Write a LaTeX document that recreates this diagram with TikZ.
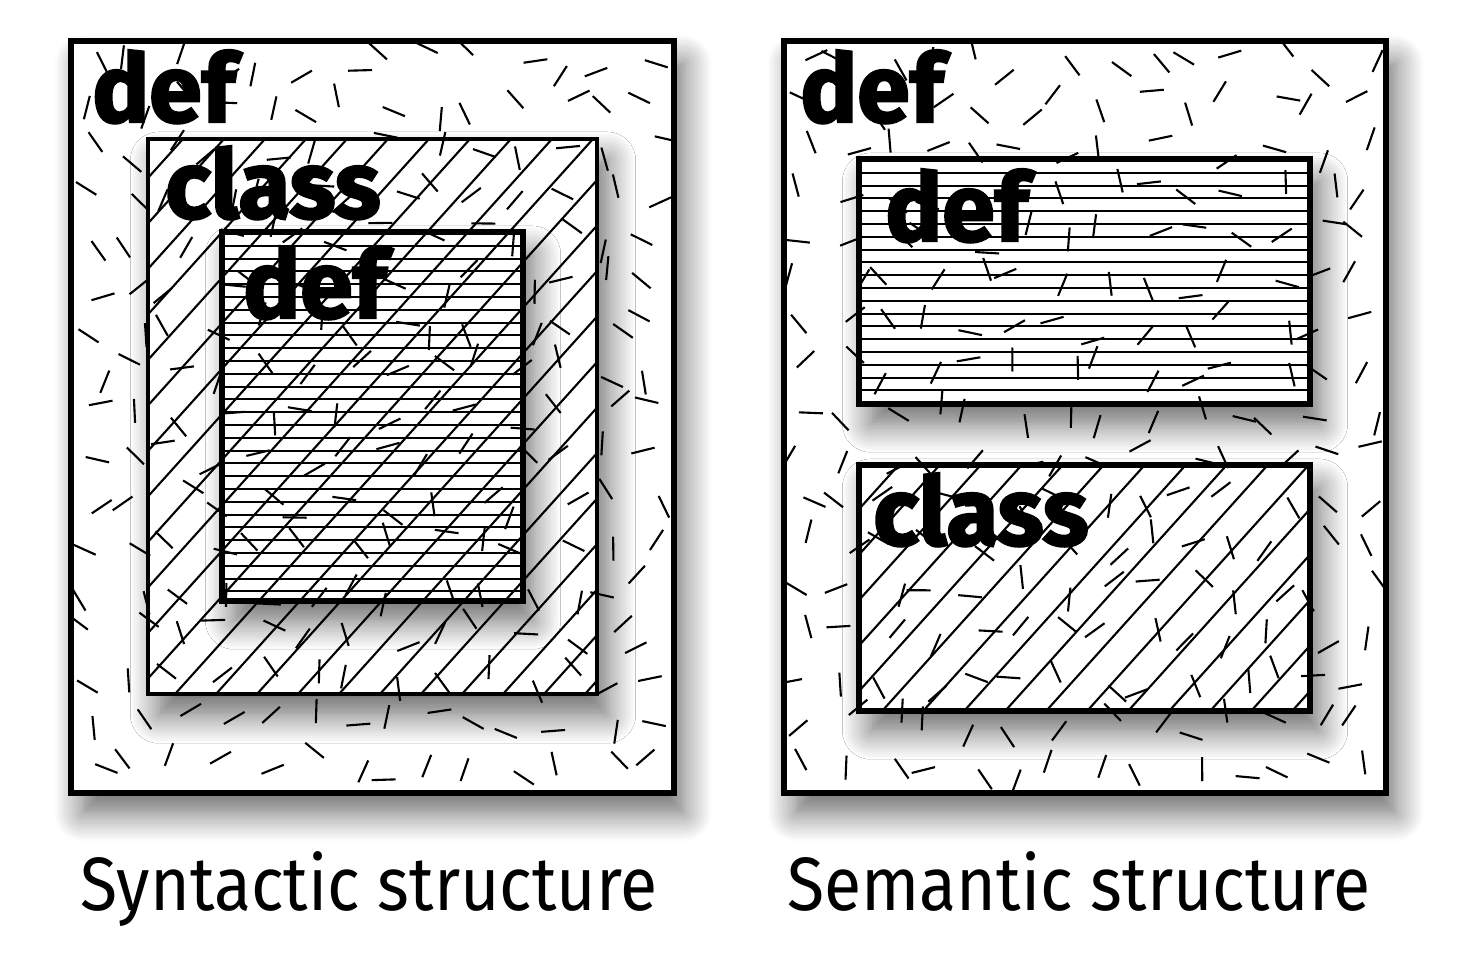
\documentclass[tikz,border=0pt]{standalone}
\usepackage{fontspec}
\setmainfont{Fira Sans}
\newfontfamily\kwfont[BoldFeatures={FakeBold=2.4}]{Fira Sans}
\newfontfamily\capfont[FakeStretch=0.9]{Fira Sans}
\usetikzlibrary{fit,shadows.blur}

\begin{document}
\begin{tikzpicture}[x=0.02cm, y=-0.02cm,
	box/.style={draw, line width=2pt, fill=white, inner sep=0pt,
		blur shadow={shadow xshift=6pt, shadow yshift=-12pt, shadow blur radius=16pt, shadow blur steps=12, shadow opacity=60}},
	hatch/.style={line width=1.2pt},
	speck/.style={line width=1.2pt, line cap=butt},
	kw/.style={font=\kwfont\bfseries\fontsize{54}{54}\selectfont, inner sep=0pt, anchor=base west},
	caption/.style={font=\capfont\fontsize{43}{43}\selectfont, inner sep=0pt, anchor=base west}]
	\useasboundingbox (0,0) rectangle (1467,971);
	\pgfmathsetseed{11}

	% syntactic side
	\node[box, fit={(72,42) (673,792)}] (synbox) {};
	\node[box, fit={(148,139) (597,694)}] (synclass) {};
	\node[box, fit={(223,233) (522,600)}] (syndef) {};
	\begin{scope}
		\clip (synclass.south west) rectangle (synclass.north east);
		\foreach \k in {-15,...,12}
			\draw[hatch] ({134+41*\k-600},{694+666}) -- ({134+41*\k+600},{694-666});
	\end{scope}
	\foreach \k in {1,...,28}
		\draw[hatch] (syndef.west |- 0,{233+12.8*\k}) -- (syndef.east |- 0,{233+12.8*\k});
	\draw[line width=2pt] (syndef.south west) rectangle (syndef.north east);

	% semantic side
	\node[box, fit={(785,42) (1385,792)}] (sembox) {};
	\node[box, fit={(860,160) (1309,403)}] (semdef) {};
	\node[box, fit={(860,466) (1309,710)}] (semclass) {};
	\foreach \k in {1,...,18}
		\draw[hatch] (semdef.west |- 0,{160+12.8*\k}) -- (semdef.east |- 0,{160+12.8*\k});
	\begin{scope}
		\clip (semclass.south west) rectangle (semclass.north east);
		\foreach \k in {-7,...,12}
			\draw[hatch] ({883+41*\k-600},{710+666}) -- ({883+41*\k+600},{710-666});
	\end{scope}
	\draw[line width=2pt] (semdef.south west) rectangle (semdef.north east);
	\draw[line width=2pt] (semclass.south west) rectangle (semclass.north east);

	% scattered strokes
	\foreach \b in {synbox, sembox} {
		\begin{scope}
			\clip (\b.south west) rectangle (\b.north east);
			\begin{scope}[shift={(\b.north west)}]
				\foreach \i in {0,...,13}
					\foreach \j in {0,...,16} {
						\pgfmathsetmacro\cx{(\i+0.5)*43+16*rand}
						\pgfmathsetmacro\cy{(\j+0.5)*44+16*rand}
						\pgfmathsetmacro\ang{180*rnd}
						\pgfmathsetmacro\dx{12*cos(\ang)}
						\pgfmathsetmacro\dy{12*sin(\ang)}
						\draw[speck] ({\cx-\dx},{\cy-\dy}) -- ({\cx+\dx},{\cy+\dy});
					}
			\end{scope}
		\end{scope}
	}
	\draw[line width=2pt] (synbox.south west) rectangle (synbox.north east);
	\draw[line width=2pt] (sembox.south west) rectangle (sembox.north east);

	\node[kw] (syndefkw) at (92,122) {def};
	\node[kw] (synclasskw) at (165,218) {class};
	\node[kw] (syninnerkw) at (243,318) {def};
	\node[kw] (semdefkw) at (800,122) {def};
	\node[kw] (seminnerkw) at (885,241) {def};
	\node[kw] (semclasskw) at (873,545) {class};

	\node[caption] (syncap) at (80,910) {Syntactic structure};
	\node[caption] (semcap) at (787,910) {Semantic structure};
\end{tikzpicture}
\end{document}
